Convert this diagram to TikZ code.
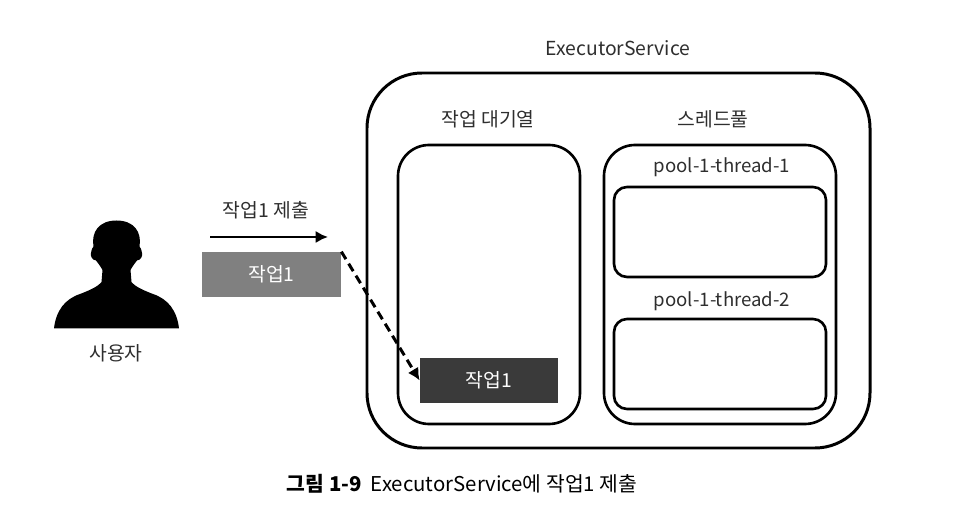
\documentclass[tikz,border=0pt]{standalone}
\usepackage{fontspec}
\usetikzlibrary{arrows.meta}
\setmainfont{Noto Sans CJK KR}
\definecolor{jobgray}{HTML}{808080}
\definecolor{jobdark}{HTML}{3A3A3A}
\definecolor{labeltext}{HTML}{2E2E2E}
\tikzset{
    boxline/.style={draw=black, line width=1.5pt},
    jobbox/.style={minimum width=2.76cm, minimum height=0.9cm, inner sep=0pt, text=white, font=\fontsize{11}{13}\selectfont},
    textlabel/.style={text=labeltext, font=\fontsize{11}{13}\selectfont},
    threadlabel/.style={text=labeltext, font=\fontsize{10.6}{13}\selectfont},
    flowline/.style={-{Latex[length=7pt, width=7pt]}, line width=1.7pt},
}
\begin{document}
\begin{tikzpicture}
    \useasboundingbox (0, 0) rectangle (19.16, 10.36);
    \draw[boxline, line width=1.7pt, rounded corners=1.1cm] (7.34, 1.40) rectangle (17.40, 8.90);
    \draw[boxline, rounded corners=0.62cm] (7.96, 1.88) rectangle (11.60, 7.46);
    \draw[boxline, rounded corners=0.62cm] (12.08, 1.88) rectangle (16.72, 7.46);
    \draw[boxline, rounded corners=0.26cm] (12.28, 4.82) rectangle (16.52, 6.62);
    \draw[boxline, rounded corners=0.26cm] (12.28, 2.18) rectangle (16.52, 3.98);
    \fill[black] (1.08, 3.79) .. controls (1.12, 4.15) and (1.30, 4.38) .. (1.60, 4.48)
        .. controls (1.78, 4.55) and (1.95, 4.62) .. (2.03, 4.72)
        -- (2.05, 4.96) .. controls (2.00, 5.05) and (1.96, 5.10) .. (1.92, 5.15)
        .. controls (1.84, 5.15) and (1.80, 5.26) .. (1.82, 5.30)
        .. controls (1.83, 5.38) and (1.86, 5.42) .. (1.87, 5.43)
        .. controls (1.82, 5.72) and (1.98, 5.95) .. (2.33, 5.95)
        .. controls (2.68, 5.95) and (2.84, 5.72) .. (2.79, 5.43)
        .. controls (2.80, 5.42) and (2.83, 5.38) .. (2.84, 5.30)
        .. controls (2.86, 5.26) and (2.82, 5.15) .. (2.74, 5.15)
        .. controls (2.70, 5.10) and (2.66, 5.05) .. (2.61, 4.96)
        -- (2.63, 4.72) .. controls (2.71, 4.62) and (2.88, 4.55) .. (3.06, 4.48)
        .. controls (3.36, 4.38) and (3.54, 4.15) .. (3.58, 3.79) -- cycle;
    \node[textlabel] (user) at (2.32, 3.30) {사용자};
    \node[textlabel] (submit) at (5.32, 6.16) {작업1 제출};
    \coordinate (submitstart) at (4.20, 5.62);
    \coordinate (submitend) at (6.56, 5.62);
    \draw[flowline] (submitstart) -- (submitend);
    \node[jobbox, fill=jobgray, minimum width=2.78cm] (jobsent) at (5.43, 4.87) {작업1};
    \node[jobbox, fill=jobdark] (jobqueued) at (9.78, 2.75) {작업1};
    \node[textlabel] (service) at (12.36, 9.40) {ExecutorService};
    \node[textlabel] (queue) at (9.76, 7.98) {작업 대기열};
    \node[textlabel] (pool) at (14.26, 7.98) {스레드풀};
    \node[threadlabel] (thread1) at (14.44, 7.02) {pool-1-thread-1};
    \node[threadlabel] (thread2) at (14.44, 4.34) {pool-1-thread-2};
    \draw[flowline, dash pattern=on 5pt off 3pt] (jobsent.north east) -- (jobqueued.west);
    \node[font=\fontsize{11.6}{13}\selectfont] (caption) at (9.24, 0.68) {\textbf{그림 1-9}\ \ ExecutorService에 작업1 제출};
\end{tikzpicture}
\end{document}
